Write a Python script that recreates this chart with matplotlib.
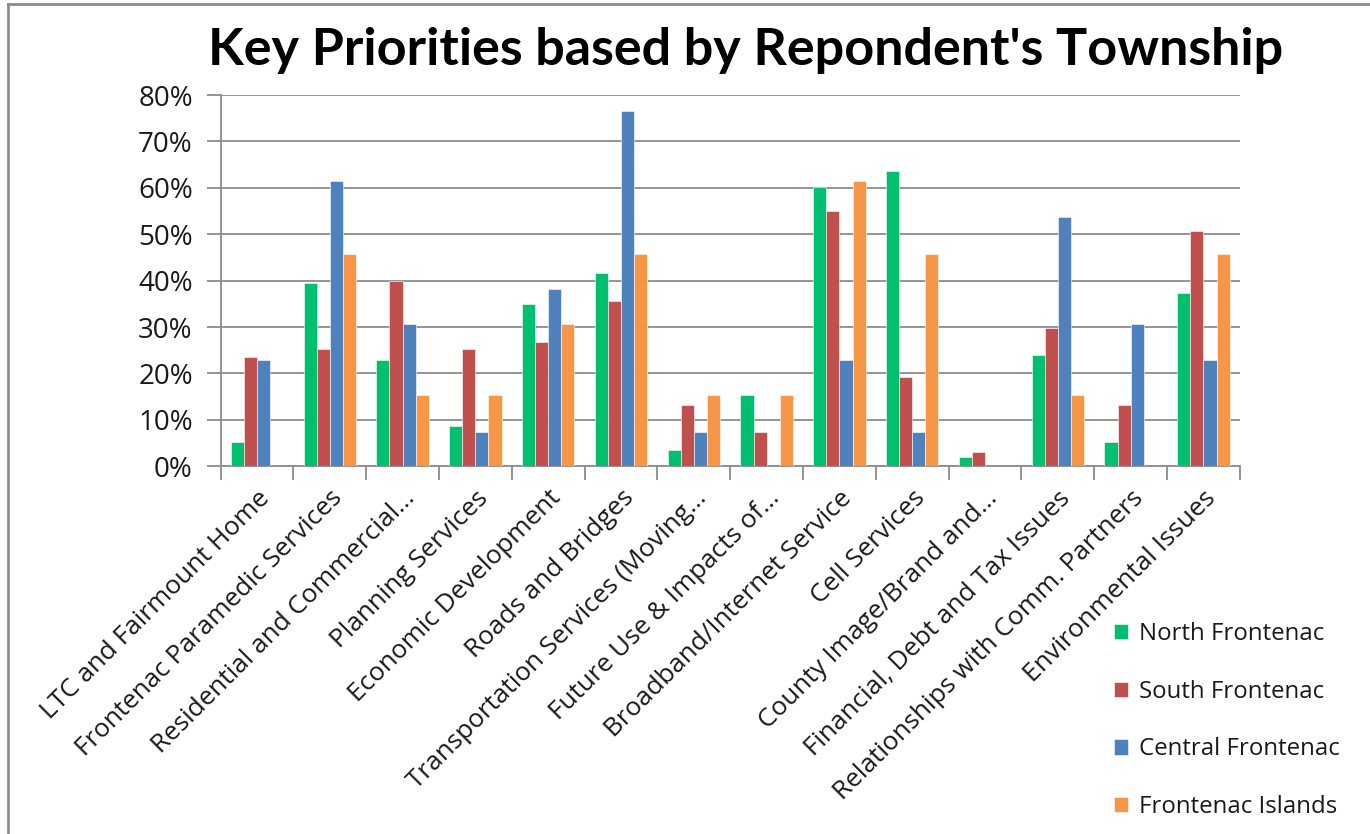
import numpy as np
import matplotlib.pyplot as plt
from matplotlib.lines import Line2D
from matplotlib.ticker import FixedLocator, PercentFormatter

plt.rcParams['font.family'] = ['Open Sans', 'DejaVu Sans']

categories = [
    'LTC and Fairmount Home',
    'Frontenac Paramedic Services',
    'Residential and Commercial…',
    'Planning Services',
    'Economic Development',
    'Roads and Bridges',
    'Transportation Services (Moving…',
    'Future Use & Impacts of…',
    'Broadband/Internet Service',
    'Cell Services',
    'County Image/Brand and…',
    'Financial, Debt and Tax Issues',
    'Relationships with Comm. Partners',
    'Environmental Issues',
]

north = [5.3, 39.5, 23.0, 8.7, 35.0, 41.7, 3.4, 15.4, 60.1, 63.6, 2.0, 23.9, 5.2, 37.3]
south = [23.6, 25.3, 40.0, 25.3, 26.8, 35.7, 13.2, 7.4, 55.0, 19.2, 3.0, 29.8, 13.2, 50.6]
central = [23.0, 61.4, 30.6, 7.4, 38.2, 76.6, 7.4, 0, 23.0, 7.4, 0, 53.8, 30.6, 23.0]
islands = [0, 45.8, 15.4, 15.4, 30.6, 45.8, 15.4, 15.4, 61.4, 45.8, 0, 15.4, 0, 45.8]

series = [
    ('North Frontenac', north, '#00BF6F'),
    ('South Frontenac', south, '#C0504D'),
    ('Central Frontenac', central, '#4F81BD'),
    ('Frontenac Islands', islands, '#F79646'),
]

fig = plt.figure(figsize=(13.7, 8.34), dpi=100)
ax = fig.add_axes([0.161, 0.441, 0.744, 0.445])

x = np.arange(len(categories))
width = 0.18
for i, (name, vals, color) in enumerate(series):
    ax.bar(x + (i - 1.5) * width, vals, width, color=color, label=name,
           edgecolor='white', linewidth=0.4, zorder=3)

ax.set_xlim(-0.5, len(categories) - 0.5)
ax.set_ylim(0, 80)
ax.set_yticks(np.arange(0, 81, 10))
ax.yaxis.set_major_formatter(PercentFormatter(decimals=0))
ax.grid(axis='y', color='#8c8c8c', linewidth=1.3, zorder=0)

ax.set_xticks(x)
ax.set_xticklabels(categories, rotation=45, ha='right', rotation_mode='anchor',
                   fontsize=18.8, color='#1a1a1a')
ax.tick_params(axis='x', length=0, pad=14)
ax.xaxis.set_minor_locator(FixedLocator(np.arange(-0.5, len(categories), 1)))
ax.tick_params(axis='x', which='minor', length=10, color='#8c8c8c', width=1.3)
ax.tick_params(axis='y', labelsize=20, labelcolor='#1a1a1a', length=10,
               color='#8c8c8c', width=1.3, pad=10)

for side in ['top', 'right']:
    ax.spines[side].set_visible(False)
for side in ['left', 'bottom']:
    ax.spines[side].set_color('#8c8c8c')
    ax.spines[side].set_linewidth(1.3)

fig.text(0.544, 0.94, "Key Priorities based by Repondent's Township",
         ha='center', va='center', fontsize=37.5, fontweight='bold',
         family=['Lato', 'DejaVu Sans'])

ax.legend(loc='upper left', bbox_to_anchor=(0.797, 0.28),
          bbox_transform=fig.transFigure, frameon=False, fontsize=17.3,
          labelcolor='#1a1a1a', handlelength=0.6, handleheight=0.6,
          handletextpad=0.45, labelspacing=1.4)

# outer chart border (top and left edges visible in the reference)
fig.add_artist(Line2D([0.006, 0.006], [0, 0.995], transform=fig.transFigure,
                      color='#8c8c8c', linewidth=2))
fig.add_artist(Line2D([0.006, 1], [0.995, 0.995], transform=fig.transFigure,
                      color='#8c8c8c', linewidth=2))

fig.savefig('out.png', dpi=100)
